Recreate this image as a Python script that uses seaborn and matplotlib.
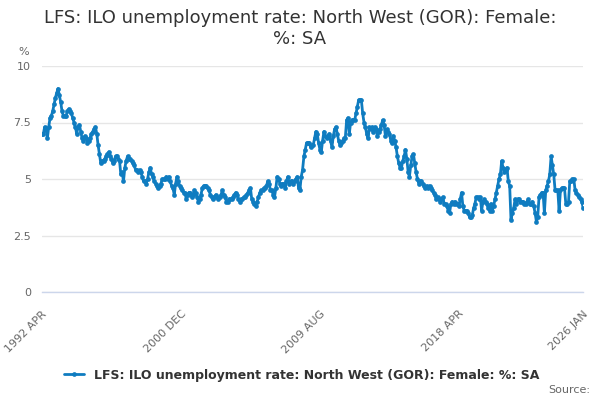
import matplotlib
matplotlib.use("Agg")
import matplotlib.pyplot as plt
import pandas as pd
import seaborn as sns

# ----------------------------------------
# Data: monthly values, 1992 APR .. 2026 JAN
# ----------------------------------------

start_month = "1992-04-01"

rate_1992 = [7.0, 7.0, 7.3, 7.2, 6.8, 7.3, 7.7, 7.8, 8.0]
rate_1993 = [8.3, 8.6, 8.8, 9.0, 8.7, 8.4, 8.0, 7.8, 7.8, 7.8, 8.0, 8.1]
rate_1994 = [8.0, 7.9, 7.7, 7.5, 7.3, 7.0, 7.3, 7.4, 7.1, 6.8, 6.7, 6.9]
rate_1995 = [6.8, 6.6, 6.7, 6.8, 7.0, 7.1, 7.2, 7.3, 7.0, 6.5, 6.1, 5.7]
rate_1996 = [5.8, 5.8, 5.9, 6.0, 6.1, 6.2, 6.0, 5.9, 5.7, 5.8, 6.0, 6.0]
rate_1997 = [5.9, 5.8, 5.2, 5.3, 4.9, 5.5, 5.8, 6.0, 5.9, 5.9, 5.8, 5.7]
rate_1998 = [5.6, 5.4, 5.4, 5.3, 5.4, 5.3, 5.1, 4.9, 4.9, 4.8, 5.0, 5.3]
rate_1999 = [5.5, 5.2, 5.1, 4.9, 4.8, 4.7, 4.6, 4.7, 4.8, 5.0, 5.0, 5.0]
rate_2000 = [5.1, 5.0, 5.1, 4.9, 4.7, 4.6, 4.3, 4.8, 5.1, 4.9, 4.7, 4.6]
rate_2001 = [4.5, 4.4, 4.4, 4.1, 4.3, 4.4, 4.4, 4.2, 4.3, 4.5, 4.4, 4.2]
rate_2002 = [4.0, 4.1, 4.3, 4.6, 4.7, 4.7, 4.7, 4.6, 4.5, 4.3, 4.2, 4.1]
rate_2003 = [4.2, 4.3, 4.2, 4.1, 4.2, 4.3, 4.5, 4.3, 4.2, 4.0, 4.0, 4.1]
rate_2004 = [4.1, 4.1, 4.2, 4.3, 4.4, 4.3, 4.1, 4.0, 4.1, 4.1, 4.2, 4.2]
rate_2005 = [4.3, 4.4, 4.5, 4.6, 4.1, 4.0, 3.9, 3.8, 4.0, 4.2, 4.4, 4.5]
rate_2006 = [4.5, 4.6, 4.6, 4.7, 4.9, 4.8, 4.5, 4.5, 4.3, 4.2, 4.6, 5.1]
rate_2007 = [5.0, 4.8, 4.7, 4.8, 4.8, 4.6, 4.9, 5.1, 4.8, 4.9, 4.9, 4.8]
rate_2008 = [4.9, 5.0, 5.1, 4.6, 4.5, 5.1, 5.4, 6.0, 6.3, 6.6, 6.6, 6.6]
rate_2009 = [6.4, 6.5, 6.5, 6.8, 7.1, 7.0, 6.6, 6.3, 6.2, 6.7, 7.1, 6.9]
rate_2010 = [6.8, 6.9, 7.0, 6.7, 6.4, 6.9, 7.2, 7.3, 7.0, 6.7, 6.5, 6.6]
rate_2011 = [6.7, 6.8, 6.8, 7.6, 7.7, 7.0, 7.5, 7.6, 7.6, 7.6, 7.9, 8.2]
rate_2012 = [8.5, 8.5, 8.5, 7.9, 7.5, 7.3, 7.0, 6.8, 7.3, 7.2, 7.3, 7.1]
rate_2013 = [7.3, 7.2, 6.9, 7.1, 7.2, 7.4, 7.6, 7.4, 6.9, 7.2, 7.1, 7.0]
rate_2014 = [6.7, 6.6, 6.9, 6.7, 6.4, 6.0, 5.7, 5.5, 5.5, 5.8, 6.0, 6.3]
rate_2015 = [5.9, 5.3, 5.1, 5.6, 6.0, 6.1, 5.7, 5.3, 5.0, 4.8, 4.9, 4.9]
rate_2016 = [4.8, 4.7, 4.6, 4.7, 4.6, 4.7, 4.6, 4.5, 4.4, 4.3, 4.1, 4.2]
rate_2017 = [4.1, 4.0, 4.1, 4.2, 3.9, 3.9, 3.8, 3.6, 3.5, 3.9, 4.0, 3.9]
rate_2018 = [4.0, 3.9, 3.9, 3.8, 4.1, 4.4, 3.8, 3.6, 3.6, 3.6, 3.5, 3.3]
rate_2019 = [3.3, 3.4, 3.7, 3.9, 4.2, 4.2, 4.1, 4.2, 3.6, 4.0, 4.1, 4.0]
rate_2020 = [3.9, 3.7, 3.6, 3.9, 3.6, 3.8, 4.1, 4.4, 4.7, 5.0, 5.2, 5.8]
rate_2021 = [5.5, 5.3, 5.4, 5.5, 4.9, 4.7, 3.2, 3.5, 3.7, 4.1, 3.9, 4.1]
rate_2022 = [4.1, 4.0, 4.0, 4.0, 3.9, 3.9, 4.0, 4.1, 3.9, 3.9, 4.0, 3.8]
rate_2023 = [3.5, 3.1, 3.3, 4.2, 4.3, 4.4, 4.4, 3.5, 4.5, 4.7, 4.9, 5.2]
rate_2024 = [6.0, 5.6, 5.2, 4.5, 4.5, 4.5, 3.6, 4.5, 4.6, 4.6, 4.6, 3.9]
rate_2025 = [3.9, 4.0, 4.9, 4.9, 5.0, 5.0, 4.5, 4.4, 4.3, 4.2, 4.1, 4.0]
rate_2026 = [3.7]

rates = (rate_1992 + rate_1993 + rate_1994 + rate_1995 + rate_1996 + rate_1997
         + rate_1998 + rate_1999 + rate_2000 + rate_2001 + rate_2002 + rate_2003
         + rate_2004 + rate_2005 + rate_2006 + rate_2007 + rate_2008 + rate_2009
         + rate_2010 + rate_2011 + rate_2012 + rate_2013 + rate_2014 + rate_2015
         + rate_2016 + rate_2017 + rate_2018 + rate_2019 + rate_2020 + rate_2021
         + rate_2022 + rate_2023 + rate_2024 + rate_2025 + rate_2026)

series_name = "LFS: ILO unemployment rate: North West (GOR): Female: %: SA"
y_ticks = [0, 2.5, 5, 7.5, 10]
y_tick_labels = ["0", "2.5", "5", "7.5", "10"]

df = pd.DataFrame({
    "Month": pd.date_range(start_month, periods=len(rates), freq="MS"),
    "Rate": rates,
})

# ----------------------------------------
# Plot
# ----------------------------------------

sns.set_style("white")
plt.rcParams["font.family"] = ["DejaVu Sans"]

line_color = "#0f7cc0"
grid_color = "#e6e6e6"
axis_color = "#ccd6eb"
label_color = "#666666"

fig = plt.figure(figsize=(6, 4), dpi=100)
ax = fig.add_axes([0.07, 0.27, 0.902, 0.565])

sns.lineplot(data=df, x="Month", y="Rate", ax=ax, color=line_color,
             linewidth=2, marker="o", markersize=3.4, markeredgewidth=0,
             label=series_name)

ax.set_ylim(0, 10)
ax.set_yticks(y_ticks)
ax.set_yticklabels(y_tick_labels)
ax.set_xlim(df["Month"].iloc[0], df["Month"].iloc[-1])

# x ticks every 26 months, labels every 4th, plus the last month
tick_dates = list(pd.date_range(start_month, periods=16, freq="26MS"))
tick_dates.append(df["Month"].iloc[-1])
tick_labels = []
for i, d in enumerate(tick_dates):
    if i % 4 == 0 or i == len(tick_dates) - 1:
        tick_labels.append(d.strftime("%Y %b").upper())
    else:
        tick_labels.append("")
ax.set_xticks(tick_dates)
ax.set_xticklabels(tick_labels, rotation=45, ha="right",
                   rotation_mode="anchor")

ax.grid(axis="y", color=grid_color, linewidth=1)
ax.grid(axis="x", visible=False)
for side in ["top", "right", "left"]:
    ax.spines[side].set_visible(False)
ax.spines["bottom"].set_color(axis_color)
ax.spines["bottom"].set_linewidth(1)
ax.tick_params(axis="x", colors=label_color, labelsize=8, length=10,
               width=1, color=axis_color, pad=2)
ax.tick_params(axis="y", colors=label_color, labelsize=8, length=0, pad=8)
ax.set_xlabel("")
ax.set_ylabel("")

fig.text(0.5, 0.978, "LFS: ILO unemployment rate: North West (GOR): Female:\n%: SA",
         ha="center", va="top", fontsize=13, color="#333333", linespacing=1.25)
fig.text(0.03, 0.87, "%", ha="left", va="center", fontsize=8, color=label_color)
fig.text(0.983, 0.012, "Source:", ha="right", va="bottom", fontsize=8,
         color=label_color)

leg = ax.legend(loc="upper center", bbox_to_anchor=(0.48, -0.29), frameon=False,
                handlelength=1.6, fontsize=9)
for t in leg.get_texts():
    t.set_fontweight("bold")
    t.set_color("#333333")

fig.savefig("out.png", dpi=100)
